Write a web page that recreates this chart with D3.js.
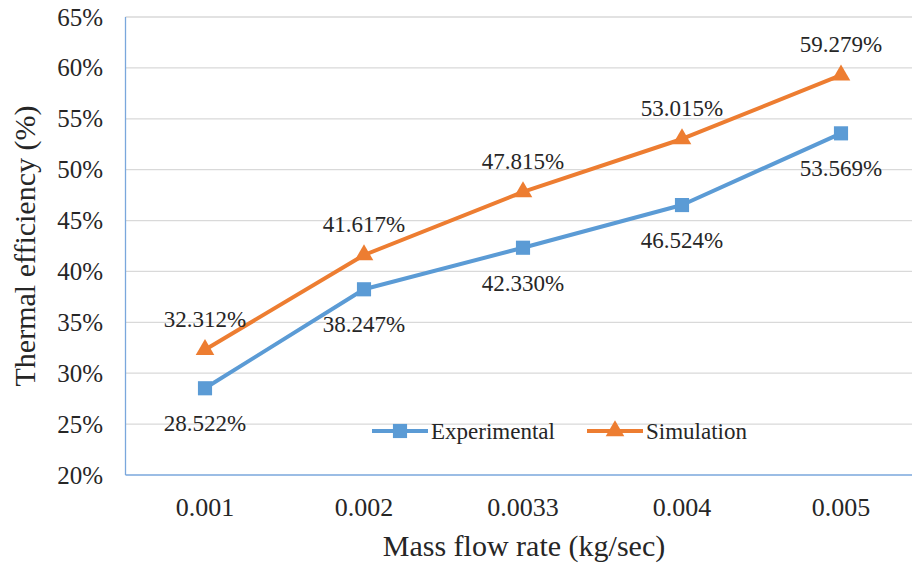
<!DOCTYPE html>
<html>
<head>
<meta charset="utf-8">
<script src="https://cdn.jsdelivr.net/npm/d3@7"></script>
<style>
  svg, svg text { font-family: "Liberation Serif", Tinos, "Times New Roman", "Nimbus Roman", FreeSerif, serif; }
</style>
</head>
<body style="margin:0">
<script>
// data
const massFlow = ["0.001", "0.002", "0.0033", "0.004", "0.005"]
const experimental = [28.522, 38.247, 42.330, 46.524, 53.569]
const simulation = [32.312, 41.617, 47.815, 53.015, 59.279]
const yTicks = [20, 25, 30, 35, 40, 45, 50, 55, 60, 65]
const seriesNames = ["Experimental", "Simulation"]

const WIDTH = 912
const HEIGHT = 566
const PLOT = { LEFT: 125.5, RIGHT: 920.5, TOP: 17, BOTTOM: 475 }
const BLUE = "#5B9BD5"
const ORANGE = "#ED7D31"

const svg = d3.select("body").append("svg")
  .attr("width", WIDTH)
  .attr("height", HEIGHT)

const x = d3.scalePoint()
  .domain(massFlow)
  .range([PLOT.LEFT, PLOT.RIGHT])
  .padding(0.5)

const y = d3.scaleLinear()
  .domain([20, 65])
  .range([PLOT.BOTTOM, PLOT.TOP])

function label(parent, px, py, str, size, anchor) {
  return parent.append("text")
    .attr("x", px)
    .attr("y", py)
    .attr("dy", "0.34em")
    .attr("text-anchor", anchor)
    .attr("font-size", size + "px")
    .style("font-family", '"Liberation Serif"')
    .attr("fill", "#262626")
    .text(str)
}

// gridlines
svg.append("g").selectAll("line")
  .data(yTicks.slice(1))
  .enter().append("line")
    .attr("x1", PLOT.LEFT)
    .attr("x2", PLOT.RIGHT)
    .attr("y1", d => y(d))
    .attr("y2", d => y(d))
    .attr("stroke", "#d9d9d9")
    .attr("stroke-width", 1.3)

// axis lines
svg.append("line")
  .attr("x1", PLOT.LEFT).attr("x2", PLOT.LEFT)
  .attr("y1", PLOT.TOP).attr("y2", PLOT.BOTTOM)
  .attr("stroke", "#7aa7dc").attr("stroke-width", 1.3)
svg.append("line")
  .attr("x1", PLOT.LEFT).attr("x2", PLOT.RIGHT)
  .attr("y1", PLOT.BOTTOM).attr("y2", PLOT.BOTTOM)
  .attr("stroke", "#7aa7dc").attr("stroke-width", 1.3)

// tick labels
const tickG = svg.append("g")
yTicks.forEach(t => label(tickG, 103, y(t), t + "%", 25, "end"))
massFlow.forEach(m => label(tickG, x(m), 507, m, 26, "middle"))

// axis titles
label(svg, 524, 546, "Mass flow rate (kg/sec)", 30, "middle")
label(svg, 0, 0, "Thermal efficiency (%)", 30, "middle")
  .attr("transform", `translate(25,${(PLOT.TOP + PLOT.BOTTOM) / 2}) rotate(-90)`)

const line = d3.line()
  .x((d, i) => x(massFlow[i]))
  .y(d => y(d))

const square = d3.symbol().type(d3.symbolSquare).size(200)
const triangle = d3.symbol().type(d3.symbolTriangle).size(150)

function drawSeries(values, color, symbol, labelOffset) {
  const g = svg.append("g")
  g.append("path")
    .datum(values)
    .attr("fill", "none")
    .attr("stroke", color)
    .attr("stroke-width", 4)
    .attr("stroke-linejoin", "round")
    .attr("d", line)
  g.selectAll(".marker")
    .data(values)
    .enter().append("path")
      .attr("class", "marker")
      .attr("transform", (d, i) => `translate(${x(massFlow[i])},${y(d)})`)
      .attr("fill", color)
      .attr("d", symbol)
  values.forEach((v, i) =>
    label(g, x(massFlow[i]), y(v) + labelOffset, v.toFixed(3) + "%", 23, "middle"))
}

drawSeries(experimental, BLUE, square, 35)
drawSeries(simulation, ORANGE, triangle, -31)

// legend
const legend = svg.append("g")
const legendItems = [
  { name: seriesNames[0], color: BLUE, symbol: square, x0: 372 },
  { name: seriesNames[1], color: ORANGE, symbol: triangle, x0: 587 }
]
legendItems.forEach(d => {
  legend.append("line")
    .attr("x1", d.x0).attr("x2", d.x0 + 56)
    .attr("y1", 431).attr("y2", 431)
    .attr("stroke", d.color).attr("stroke-width", 4)
  legend.append("path")
    .attr("transform", `translate(${d.x0 + 28},431)`)
    .attr("fill", d.color)
    .attr("d", d.symbol)
  label(legend, d.x0 + 59, 431, d.name, 23, "start")
})
</script>
</body>
</html>
